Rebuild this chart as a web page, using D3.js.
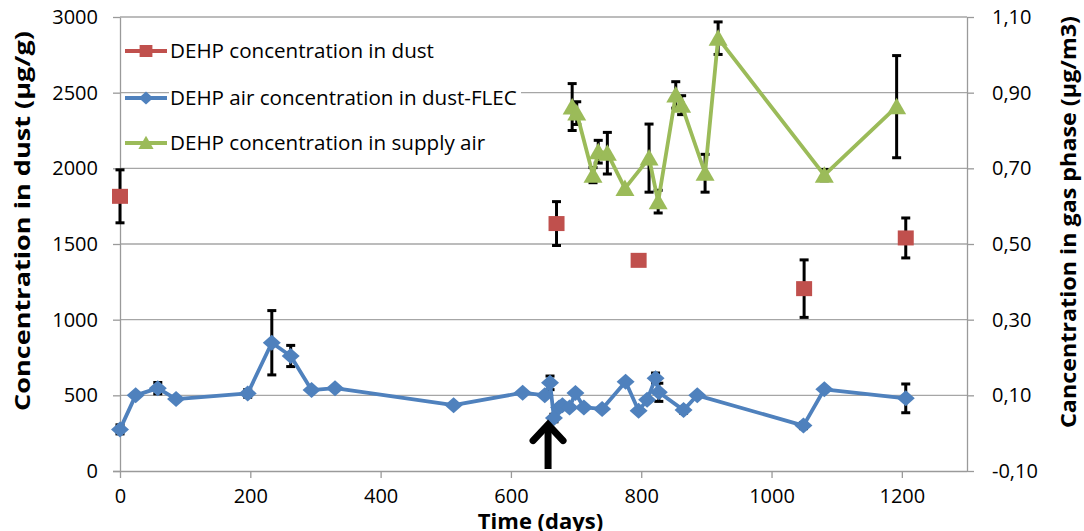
<!DOCTYPE html>
<html><head><meta charset="utf-8">
<script src="https://cdn.jsdelivr.net/npm/d3@7"></script>
<style>
body{margin:0;background:#fff}
svg{display:block}
text{font-family:"Open Sans",sans-serif;fill:#000}
</style>
</head><body>
<svg id="chart" width="1084" height="531"></svg>
<script>
// ---- data ----
const dustDays   = [0, 670, 796, 1050, 1206];
const dustValues = [1815, 1635, 1392, 1205, 1540];
const dustErr    = [175, 145, 0, 190, 132];

const airDays   = [0, 24, 58, 86, 196, 233, 262, 294, 330, 512, 618, 652, 660, 666, 674, 679, 690, 699, 712, 740, 776, 796, 809, 822, 827, 865, 886, 1049, 1081, 1206];
const airValues = [0.010, 0.100, 0.119, 0.090, 0.105, 0.239, 0.204, 0.114, 0.119, 0.074, 0.107, 0.100, 0.133, 0.040, 0.068, 0.074, 0.068, 0.106, 0.068, 0.064, 0.136, 0.059, 0.088, 0.145, 0.108, 0.061, 0.100, 0.020, 0.116, 0.092];
const airErr    = [0.012, 0, 0.015, 0, 0.010, 0.085, 0.028, 0, 0, 0, 0, 0, 0.018, 0.010, 0, 0, 0, 0, 0, 0, 0, 0, 0, 0.014, 0.024, 0.008, 0, 0.008, 0, 0.038];

const supplyDays   = [694, 701, 726, 734, 748, 775, 812, 826, 853, 862, 898, 918, 1081, 1192];
const supplyValues = [0.862, 0.846, 0.682, 0.744, 0.740, 0.647, 0.727, 0.612, 0.894, 0.867, 0.687, 1.044, 0.682, 0.863];
const supplyErr    = [0.062, 0.030, 0.020, 0.030, 0.055, 0, 0.090, 0.030, 0.035, 0.025, 0.050, 0.043, 0.015, 0.135];

const xTicks = [0, 200, 400, 600, 800, 1000, 1200];
const leftTicks = [0, 500, 1000, 1500, 2000, 2500, 3000];
const rightTicks = [-0.1, 0.1, 0.3, 0.5, 0.7, 0.9, 1.1];
const rightTickLabels = ["-0,10", "0,10", "0,30", "0,50", "0,70", "0,90", "1,10"];

const seriesNames = ["DEHP concentration in dust", "DEHP air concentration in dust-FLEC", "DEHP concentration in supply air"];
const seriesColors = ["#C0504D", "#4F81BD", "#9BBB59"];

const arrowDay = 657, arrowFrom = 0, arrowTo = 320;

const xTitle = "Time (days)";
const yLeftTitle = "Concentration in dust (µg/g)";
const yRightTitle = "Cancentration in gas phase (µg/m3)";

// ---- layout ----
const svg = d3.select("#chart");
const L = 120, R = 967, T = 17, B = 471;
const x  = d3.scaleLinear().domain([0, 1300]).range([L, R]);
const yL = d3.scaleLinear().domain([0, 3000]).range([B, T]);
const yR = d3.scaleLinear().domain([-0.1, 1.1]).range([B, T]);

const gridColor = "#A6A6A6", axisColor = "#9A9A9A";

// gridlines
svg.append("g").selectAll("line").data(leftTicks.slice(1)).join("line")
  .attr("x1", L).attr("x2", R).attr("y1", d => yL(d)).attr("y2", d => yL(d))
  .attr("stroke", gridColor).attr("stroke-width", 1.3);

// axes
function styleAxis(g){
  g.select(".domain").attr("stroke", axisColor).attr("stroke-width", 1.3);
  g.selectAll(".tick line").attr("stroke", axisColor).attr("stroke-width", 1.3);
  g.selectAll(".tick text").style("font-family", '"Open Sans",sans-serif').style("font-size", "20px").attr("fill", "#000");
}
svg.append("g").attr("transform", `translate(${L},0)`)
  .call(d3.axisLeft(yL).tickValues(leftTicks).tickSize(7).tickSizeOuter(0).tickPadding(15).tickFormat(d3.format("d")))
  .call(styleAxis);
svg.append("g").attr("transform", `translate(${R},0)`)
  .call(d3.axisRight(yR).tickValues(rightTicks).tickSize(7).tickSizeOuter(0).tickPadding(18).tickFormat((d, i) => rightTickLabels[i]))
  .call(styleAxis);
const xg = svg.append("g").attr("transform", `translate(0,${B})`)
  .call(d3.axisBottom(x).tickValues(xTicks).tickSize(7).tickSizeOuter(0).tickPadding(11).tickFormat(d3.format("d")))
  .call(styleAxis);
xg.select(".domain").attr("d", `M${L - 7},0.5H${R}`);

// axis titles
svg.append("text").attr("transform", `translate(30,221) rotate(-90)`)
  .attr("text-anchor", "middle").style("font-size", "22px").style("font-weight", "bold")
  .attr("textLength", 380).attr("lengthAdjust", "spacingAndGlyphs").text(yLeftTitle);
svg.append("text").attr("transform", `translate(1076,222) rotate(-90)`)
  .attr("text-anchor", "middle").style("font-size", "22px").style("font-weight", "bold")
  .attr("textLength", 412).attr("lengthAdjust", "spacingAndGlyphs").text(yRightTitle);
svg.append("text").attr("x", (L + R) / 2 - 3).attr("y", 529)
  .attr("text-anchor", "middle").style("font-size", "22px").style("font-weight", "bold").text(xTitle);

// markers
function marker(g, kind, color){
  if (kind === "square") g.append("rect").attr("x", -8).attr("y", -7.5).attr("width", 16).attr("height", 15).attr("fill", color);
  else if (kind === "diamond") g.append("path").attr("d", "M0,-8L9,0L0,8L-9,0Z").attr("fill", color);
  else g.append("path").attr("d", "M0,-9L9.5,7.5L-9.5,7.5Z").attr("fill", color);
}

function drawSeries(days, vals, errs, yScale, color, kind, withLine){
  const pts = days.map((d, i) => ({x: x(d), y: yScale(vals[i]), lo: yScale(vals[i] - errs[i]), hi: yScale(vals[i] + errs[i]), e: errs[i]}));
  const g = svg.append("g");
  const eb = g.append("g").selectAll("g").data(pts.filter(p => p.e > 0)).join("g");
  eb.append("line").attr("x1", p => p.x).attr("x2", p => p.x).attr("y1", p => p.lo).attr("y2", p => p.hi).attr("stroke", "#000").attr("stroke-width", 3);
  eb.append("line").attr("x1", p => p.x - 4.5).attr("x2", p => p.x + 4.5).attr("y1", p => p.lo).attr("y2", p => p.lo).attr("stroke", "#000").attr("stroke-width", 3);
  eb.append("line").attr("x1", p => p.x - 4.5).attr("x2", p => p.x + 4.5).attr("y1", p => p.hi).attr("y2", p => p.hi).attr("stroke", "#000").attr("stroke-width", 3);
  if (withLine) {
    g.append("path").datum(pts).attr("fill", "none").attr("stroke", color).attr("stroke-width", 3.8).attr("stroke-linejoin", "round")
      .attr("d", d3.line().x(p => p.x).y(p => p.y));
  }
  g.append("g").selectAll("g").data(pts).join("g").attr("transform", p => `translate(${p.x},${p.y})`)
    .each(function(){ marker(d3.select(this), kind, color); });
}

drawSeries(dustDays, dustValues, dustErr, yL, seriesColors[0], "square", false);
drawSeries(airDays, airValues, airErr, yR, seriesColors[1], "diamond", true);
drawSeries(supplyDays, supplyValues, supplyErr, yR, seriesColors[2], "triangle", true);

// arrow annotation
const ax = x(arrowDay), aBot = yL(arrowFrom) - 2, aTop = yL(arrowTo);
svg.append("line").attr("x1", ax).attr("x2", ax).attr("y1", aBot).attr("y2", aTop + 3).attr("stroke", "#000").attr("stroke-width", 7);
svg.append("path").attr("d", `M${ax - 15},${aTop + 18}L${ax},${aTop + 2}L${ax + 15},${aTop + 18}`)
  .attr("fill", "none").attr("stroke", "#000").attr("stroke-width", 7).attr("stroke-linejoin", "miter").attr("stroke-linecap", "round");

// legend
const legendY = [51, 98, 143];
const kinds = ["square", "diamond", "triangle"];
const lg = svg.append("g");
lg.append("rect").attr("x", 169).attr("y", 30).attr("width", 352).attr("height", 128).attr("fill", "#fff");
seriesNames.forEach((name, i) => {
  lg.append("line").attr("x1", 125).attr("x2", 167).attr("y1", legendY[i]).attr("y2", legendY[i]).attr("stroke", seriesColors[i]).attr("stroke-width", 3.8);
  const mg = lg.append("g").attr("transform", `translate(146,${legendY[i]}) scale(0.8)`);
  marker(mg, kinds[i], seriesColors[i]);
  lg.append("text").attr("x", 170).attr("y", legendY[i]).attr("dy", "0.35em").style("font-size", "20.6px").text(name);
});
</script>
</body></html>
